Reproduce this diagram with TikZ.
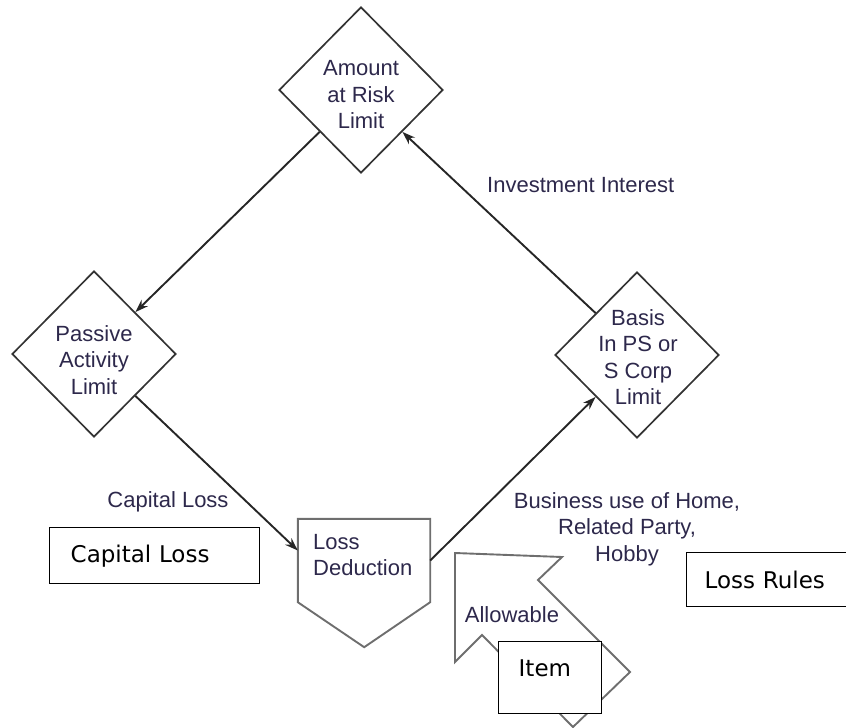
\documentclass[tikz,border=0pt]{standalone}
\usepackage{fontspec}
\setmainfont{Liberation Sans}
\newfontfamily\boxfont{DejaVu Sans}
\usetikzlibrary{shapes.geometric,arrows.meta}
\definecolor{inkblue}{RGB}{45,40,75}
\definecolor{edgegray}{RGB}{110,110,110}
\tikzset{
  limit/.style={diamond, draw=black!80, line width=1.7pt, minimum width=164pt, minimum height=166pt, inner sep=0pt},
  lbl/.style={font=\fontsize{22}{26.5}\selectfont, text=inkblue, align=center, inner sep=0pt},
  box/.style={draw, line width=1.4pt, anchor=north west, align=left, font=\boxfont\fontsize{23}{28}\selectfont, inner ysep=0pt},
  flow/.style={->, line width=1.9pt, draw=black!85, >={Stealth[length=13pt,width=9pt]}},
}
\begin{document}
\begin{tikzpicture}[x=1pt,y=-1pt]
   \useasboundingbox (0,0) rectangle (846,728);
   % the four limits
   \node[limit] (risk) at (361,90) {};
   \node[lbl] (risk-txt) at (361,95) {Amount\\at Risk\\Limit};
   \node[limit] (passive) at (94,354) {};
   \node[lbl] (passive-txt) at (94,360) {Passive\\Activity\\Limit};
   \node[limit] (basis) at (637,355) {};
   \node[lbl] (basis-txt) at (638,357) {Basis\\In PS or\\S Corp\\Limit};
   \node[minimum width=132pt, minimum height=83pt, inner sep=0pt] (loss) at (364,560.5) {};
   \draw[edgegray, line width=1.9pt] (loss.north west) -- (loss.north east) -- (loss.south east) -- ++(-66,45) -- (loss.south west) -- cycle;
   \node[lbl, align=left, anchor=west] (loss-txt) at (313,555) {Loss\\Deduction};
   % connectors
   \draw[flow] (risk.south west) -- (passive.north east);
   \draw[flow] (passive.south east) -- ([yshift=10pt]loss.west);
   \draw[flow] (loss.east) -- (basis.south west);
   \draw[flow] (basis.north west) -- (risk.south east);
   \node[lbl, anchor=west] (invest) at (487,185) {Investment Interest};
   \node[lbl] (caploss-lbl) at (168,502) {Capital Loss};
   \node[lbl] (business) at (627,529) {Business use of Home,\\Related Party,\\Hobby};
   % allowable arrow
   \draw[edgegray, line width=1.9pt] (455,553) -- (562,557) -- (538,580) -- (630,672) -- (573,727) -- (482,635) -- (455,662) -- cycle;
   \node[lbl] (allow) at (512,615) {Allowable};
   % boxes
   \node[box, inner xsep=21pt, text width=168pt, minimum height=56pt] (caploss) at (49,527) {Capital Loss};
   \node[box, inner xsep=20pt, text width=63pt, text height=35pt, text depth=37pt, fill=white] (item) at (498,641) {Item};
   \node[box, inner xsep=18pt, text width=124pt, minimum height=54pt] (rules) at (686,552) {Loss Rules};
\end{tikzpicture}
\end{document}
